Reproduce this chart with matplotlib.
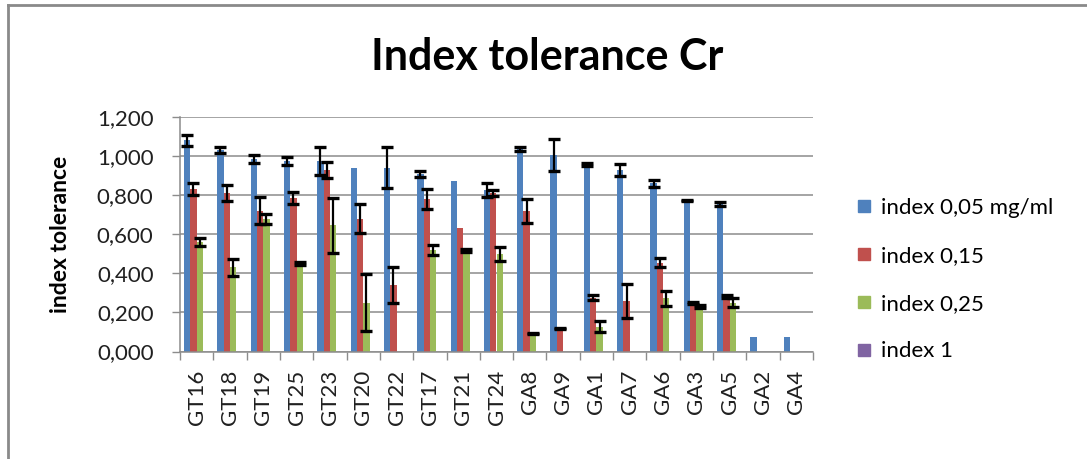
import matplotlib
matplotlib.use("Agg")
import matplotlib.pyplot as plt
import numpy as np
from matplotlib.ticker import FuncFormatter
from matplotlib.lines import Line2D

categories = ["GT16", "GT18", "GT19", "GT25", "GT23", "GT20", "GT22", "GT17", "GT21", "GT24",
              "GA8", "GA9", "GA1", "GA7", "GA6", "GA3", "GA5", "GA2", "GA4"]

idx_005 = [1.080, 1.030, 0.985, 0.975, 0.975, 0.940, 0.940, 0.910, 0.870, 0.825,
           1.035, 1.005, 0.955, 0.930, 0.860, 0.772, 0.755, 0.072, 0.072]
err_005 = [0.030, 0.015, 0.020, 0.020, 0.070, 0.000, 0.105, 0.016, 0.000, 0.035,
           0.010, 0.083, 0.008, 0.032, 0.020, 0.004, 0.008, 0.000, 0.000]

idx_015 = [0.830, 0.810, 0.720, 0.785, 0.930, 0.680, 0.340, 0.780, 0.630, 0.810,
           0.720, 0.118, 0.275, 0.258, 0.455, 0.246, 0.283, 0.000, 0.000]
err_015 = [0.030, 0.040, 0.070, 0.030, 0.040, 0.073, 0.093, 0.050, 0.000, 0.015,
           0.060, 0.004, 0.012, 0.086, 0.024, 0.005, 0.008, 0.000, 0.000]

idx_025 = [0.560, 0.430, 0.680, 0.450, 0.645, 0.250, 0.000, 0.520, 0.515, 0.500,
           0.090, 0.000, 0.127, 0.000, 0.272, 0.230, 0.250, 0.000, 0.000]
err_025 = [0.020, 0.045, 0.025, 0.007, 0.140, 0.145, 0.000, 0.027, 0.007, 0.037,
           0.003, 0.000, 0.027, 0.000, 0.040, 0.008, 0.022, 0.000, 0.000]

idx_1 = [0.0] * len(categories)

series_names = ["index 0,05 mg/ml", "index 0,15", "index 0,25", "index 1"]
series_vals = [idx_005, idx_015, idx_025, idx_1]
series_errs = [err_005, err_015, err_025, None]
colors = ["#4F81BD", "#C0504D", "#9BBB59", "#8064A2"]

yticks = [0.0, 0.2, 0.4, 0.6, 0.8, 1.0, 1.2]

FONT = ["Lato", "DejaVu Sans"]
plt.rcParams["font.family"] = FONT

W, H = 1087, 459
fig = plt.figure(figsize=(W / 100, H / 100), dpi=100)
ax = fig.add_axes([180 / W, 1 - 351.5 / H, (813 - 180) / W, (351.5 - 117) / H])

x = np.arange(len(categories))
bw = 0.19
handles = []
for k, (name, vals, errs, c) in enumerate(zip(series_names, series_vals, series_errs, colors)):
    pos = x + (k - 1.5) * bw
    ax.bar(pos, vals, width=bw, color=c, zorder=2, label=name)
    if errs is not None:
        e = np.array(errs)
        mask = e > 0
        ax.errorbar(pos[mask], np.array(vals)[mask], yerr=e[mask], fmt="none",
                    ecolor="black", elinewidth=1.6, capsize=4, capthick=2.4, zorder=3)
    handles.append(Line2D([], [], marker="s", linestyle="none", markersize=8,
                          markerfacecolor=c, markeredgecolor=c))

ax.set_xlim(-0.5, len(categories) - 0.5)
ax.set_ylim(0, 1.2)
ax.set_yticks(yticks)
ax.yaxis.set_major_formatter(FuncFormatter(lambda v, p: f"{v:.3f}".replace(".", ",")))
ax.yaxis.grid(True, color="#8c8c8c", linewidth=1.1, zorder=0)
ax.set_axisbelow(True)

TFS = 16
ax.set_xticks(np.arange(len(categories) + 1) - 0.5)
ax.set_xticklabels([])
ax.set_xticks(x, minor=True)
ax.set_xticklabels(categories, minor=True, rotation=90, fontsize=TFS, color="#202020")
ax.tick_params(axis="x", which="major", length=6, width=1, color="#8c8c8c", direction="out")
ax.tick_params(axis="x", which="minor", length=0, pad=13)
ax.tick_params(axis="y", length=6, width=1, color="#8c8c8c", labelsize=TFS,
               labelcolor="#202020", pad=13)

for s in ["top", "right"]:
    ax.spines[s].set_visible(False)
for s in ["left", "bottom"]:
    ax.spines[s].set_color("#8c8c8c")
    ax.spines[s].set_linewidth(1.1)

ax.set_ylabel("index tolerance", fontsize=16.5, fontweight="bold")
ax.yaxis.set_label_coords(-0.172, 0.5)

fig.text(547 / W, 1 - 57 / H, "Index tolerance Cr", fontsize=31, fontweight="bold",
         ha="center", va="center")

leg = fig.legend(handles, series_names, loc="upper left",
                 bbox_to_anchor=(845 / W, 1 - 187 / H), frameon=False,
                 fontsize=TFS, handlelength=0.7, handletextpad=0.4,
                 labelspacing=1.25, borderpad=0)

# chart outer border
fig.add_artist(Line2D([8 / W, 8 / W], [0, 1 - 5 / H], transform=fig.transFigure,
                      color="#8a8a8a", linewidth=2))
fig.add_artist(Line2D([8 / W, 1], [1 - 5 / H, 1 - 5 / H], transform=fig.transFigure,
                      color="#8a8a8a", linewidth=2))

fig.savefig("out.png", dpi=100)
